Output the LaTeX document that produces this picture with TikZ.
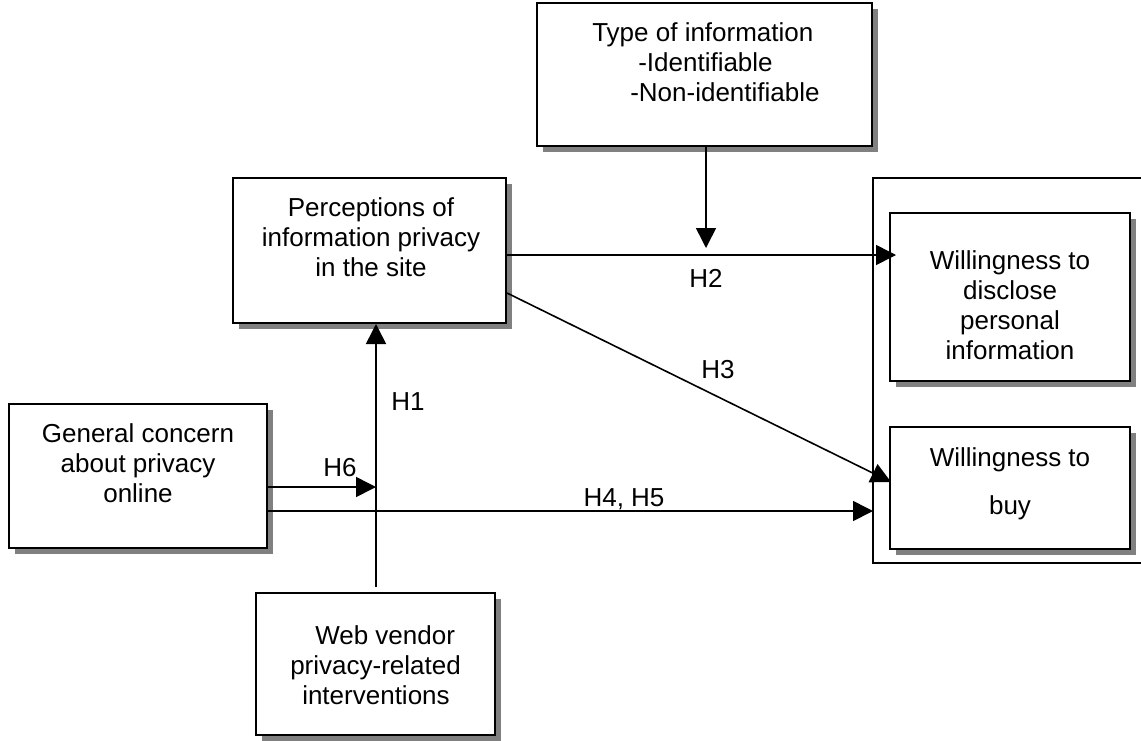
\documentclass[tikz,border=0pt]{standalone}
\usepackage{fontspec}
\setmainfont{Liberation Sans}
\usetikzlibrary{arrows.meta,shadows,calc}
\begin{document}
\begin{tikzpicture}[x=0.75pt,y=-0.75pt,
  box/.style={draw,line width=1.5pt,fill=white,inner sep=0,
    drop shadow={shadow xshift=4.5pt,shadow yshift=-4.5pt,fill=black!50,opacity=1}},
  txt/.style={font=\fontsize{19.5}{22.5}\selectfont,inner sep=0},
  hyp/.style={font=\fontsize{19.5}{22.5}\selectfont,inner sep=0,anchor=base},
  conn/.style={line width=1.2pt,-{Triangle[length=15pt,width=15pt]}},
  frame/.style={line width=1.5pt}]
\useasboundingbox (0,0) rectangle (1141,740);

% boxes
\node[box,minimum width=251.25pt,minimum height=107.25pt] (typ)  at (704.5,74.5) {};
\node[box,minimum width=204.75pt,minimum height=108.75pt] (perc) at (369.5,250.5) {};
\node[box,minimum width=193.5pt, minimum height=108pt]    (gen)  at (138,476) {};
\node[box,minimum width=179.25pt,minimum height=106.5pt]  (web)  at (375.5,664) {};

% outcome frame, open to the right
\coordinate (frTL) at (873,178);
\coordinate (frBL) at (873,563);
\draw[frame] (1150,178) -- (frTL) -- (frBL) -- (1150,563);

\node[box,minimum width=180pt,minimum height=126pt] (disc) at (1010,297) {};
\node[box,minimum width=180pt,minimum height=91.5pt] (buy) at (1010,488) {};

% box texts
\node[txt,anchor=north west,align=left] (typT) at (592,22)
  {Type of information\\\hspace*{34.5pt}-Identifiable\\\hspace*{28.5pt}-Non-identifiable};
\node[txt,anchor=north,align=center] (percT) at (371,197)
  {Perceptions of\\information privacy\\in the site};
\node[txt,anchor=north,align=center] (genT) at (138,423)
  {General concern\\about privacy\\online};
\node[txt,anchor=north west,align=left] (webT) at (290,625)
  {\hspace*{18.75pt}Web vendor\\privacy-related\\\hspace*{9pt}interventions};
\node[txt,anchor=north,align=center] (discT) at (1010,250)
  {Willingness to\\disclose\\personal\\information};
\node[txt,anchor=north,align=center] (buyT) at (1010,447)
  {Willingness to\\[13.5pt]buy};

% connector end points
\coordinate (tipT)  at (706,248);
\coordinate (h2s)   at ($(perc.east)+(0,4.5)$);
\coordinate (h2e)   at ($(disc.west)+(7,-42)$);
\coordinate (h3s)   at ($(perc.east)+(0,42.5)$);
\coordinate (h3e)   at ($(buy.west)+(2,-6)$);
\coordinate (h6s)   at ($(gen.east)+(0,11)$);
\coordinate (h6e)   at (376,487);
\coordinate (h45s)  at ($(gen.east)+(0,35)$);
\coordinate (h1s)   at (376,587);

% connectors
\draw[conn] (typ.south -| tipT) -- (tipT);
\draw[conn] (h2s) -- (h2e);
\draw[conn] (h3s) -- (h3e);
\draw[conn] (h6s) -- (h6e);
\draw[conn] (h45s) -- (frTL |- h45s);
\draw[conn] (h1s) -- (perc.south -| h1s);

% hypothesis labels
\node[hyp] (lH1) at (408,410) {H1};
\node[hyp] (lH2) at (706,287) {H2};
\node[hyp] (lH3) at (718,378) {H3};
\node[hyp] (lH45) at (624,506) {H4, H5};
\node[hyp] (lH6) at (340,476) {H6};
\end{tikzpicture}
\end{document}
